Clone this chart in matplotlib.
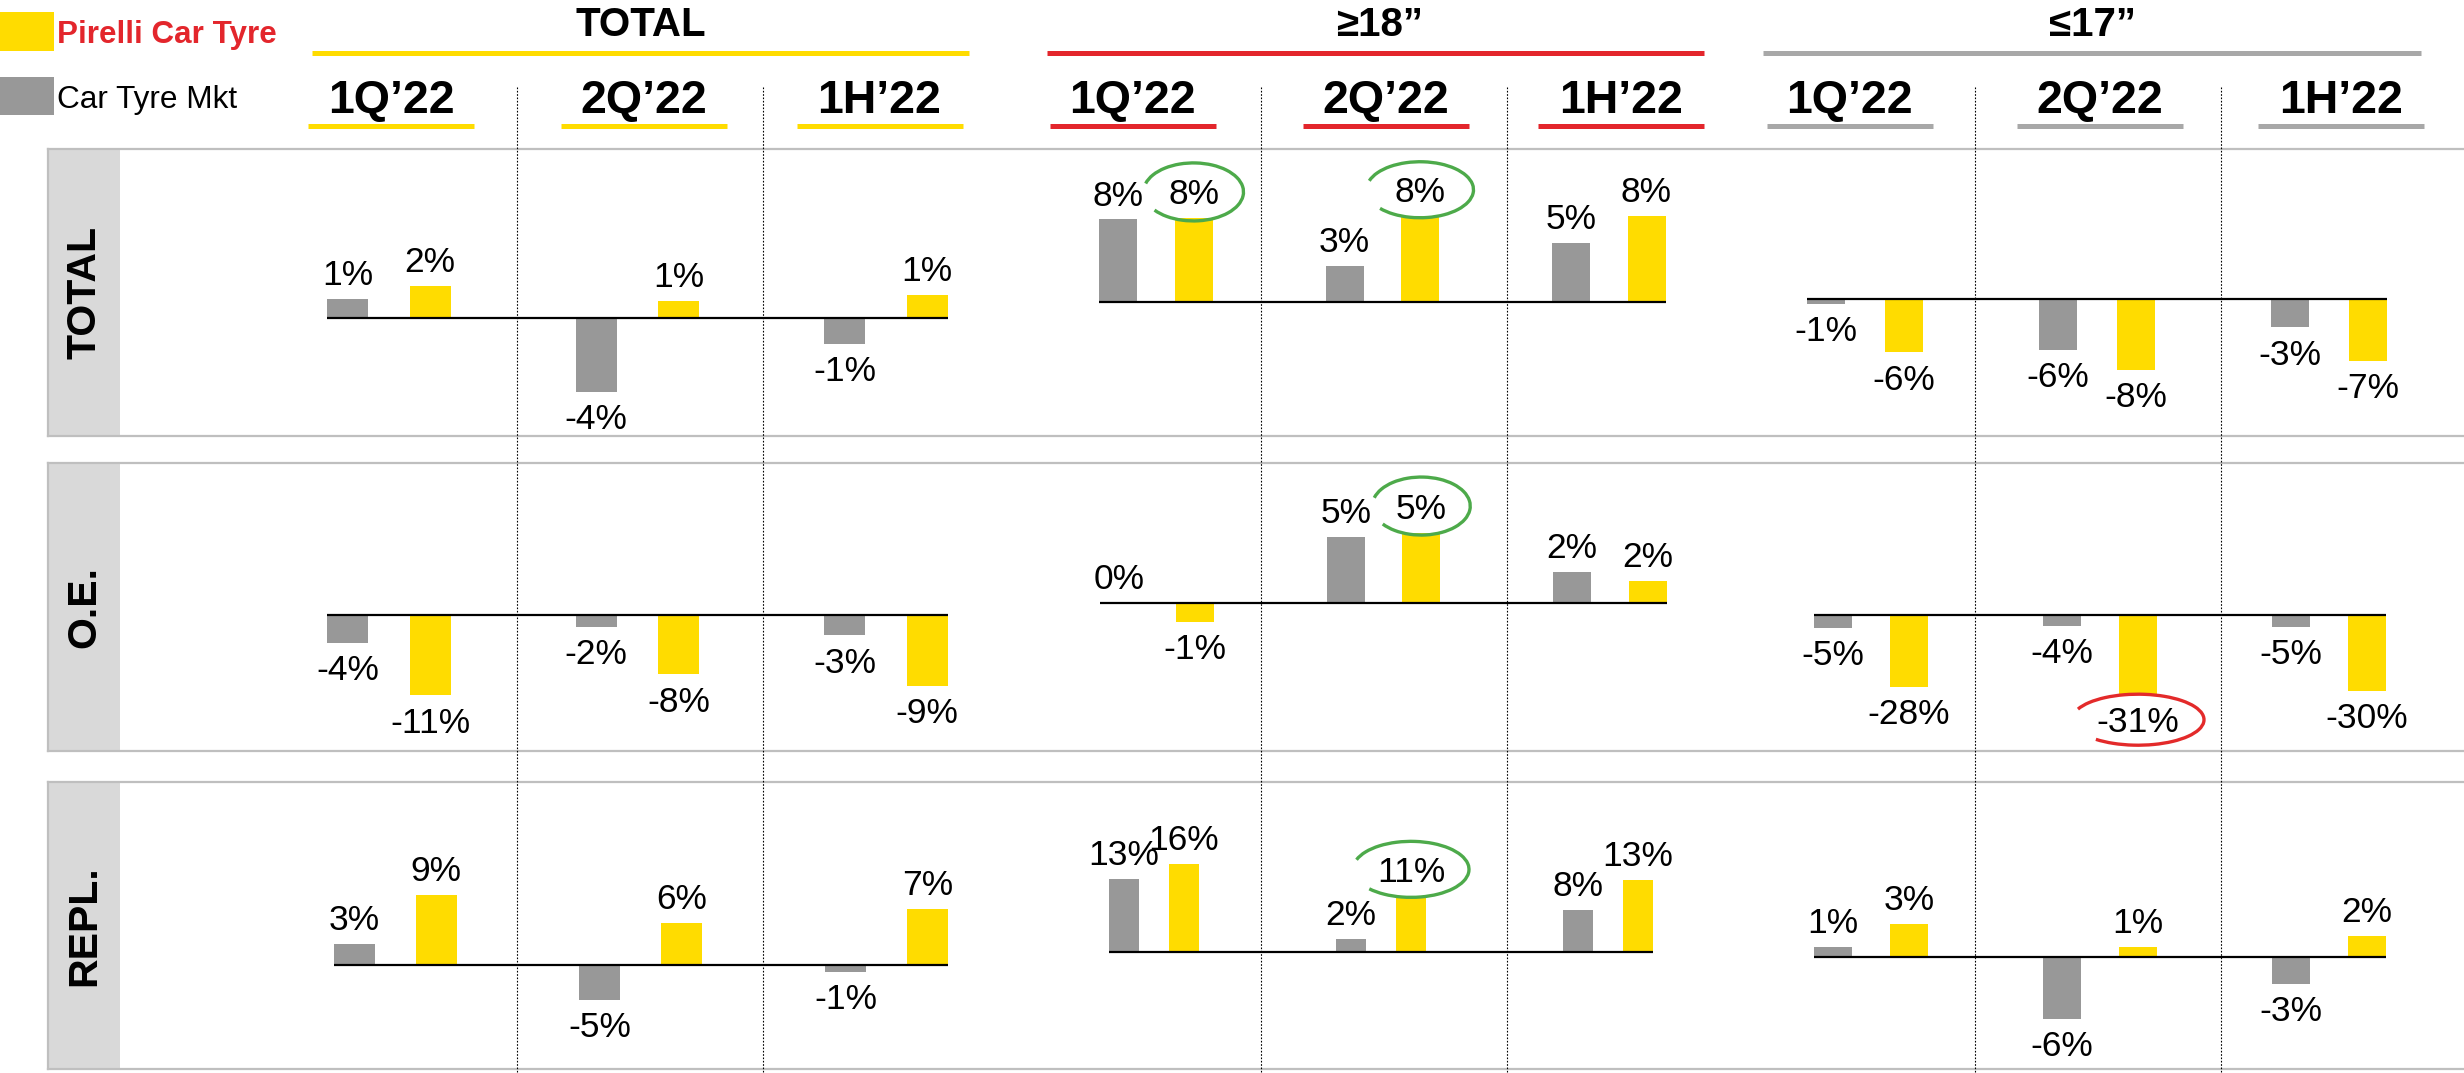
import matplotlib
matplotlib.use("Agg")
import matplotlib.pyplot as plt
from matplotlib.patches import Rectangle, Arc
from matplotlib.lines import Line2D
from matplotlib.transforms import IdentityTransform
import numpy as np

plt.rcParams['font.family'] = ['Liberation Sans', 'DejaVu Sans']

# ---------------- data ----------------
group_titles = ['TOTAL', '≥18”', '≤17”']
period_labels = ['1Q’22', '2Q’22', '1H’22']
row_titles = ['TOTAL', 'O.E.', 'REPL.']
series_names = ['Pirelli Car Tyre', 'Car Tyre Mkt']

# Car Tyre Mkt (grey) and Pirelli Car Tyre (yellow), % change y/y (bar heights)
mkt_total_all = [1.0, -4.0, -1.4]
pir_total_all = [1.7, 0.9, 1.2]
mkt_total_18 = [7.6, 3.3, 5.4]
pir_total_18 = [7.7, 7.9, 7.9]
mkt_total_17 = [-0.6, -5.7, -3.2]
pir_total_17 = [-6.0, -8.0, -7.0]

mkt_oe_all = [-3.7, -1.6, -2.7]
pir_oe_all = [-10.7, -7.9, -9.4]
mkt_oe_18 = [0.0, 4.9, 2.3]
pir_oe_18 = [-1.4, 5.2, 1.6]
mkt_oe_17 = [-5.0, -4.2, -4.6]
pir_oe_17 = [-27.9, -31.0, -29.5]

mkt_repl_all = [2.8, -4.8, -1.0]
pir_repl_all = [9.4, 5.6, 7.5]
mkt_repl_18 = [13.2, 2.4, 7.6]
pir_repl_18 = [16.0, 10.2, 13.1]
mkt_repl_17 = [0.9, -6.0, -2.6]
pir_repl_17 = [3.2, 0.9, 2.0]

# labels as printed on the chart
mkt_total_all_lbl = ['1%', '-4%', '-1%']
pir_total_all_lbl = ['2%', '1%', '1%']
mkt_total_18_lbl = ['8%', '3%', '5%']
pir_total_18_lbl = ['8%', '8%', '8%']
mkt_total_17_lbl = ['-1%', '-6%', '-3%']
pir_total_17_lbl = ['-6%', '-8%', '-7%']
mkt_oe_all_lbl = ['-4%', '-2%', '-3%']
pir_oe_all_lbl = ['-11%', '-8%', '-9%']
mkt_oe_18_lbl = ['0%', '5%', '2%']
pir_oe_18_lbl = ['-1%', '5%', '2%']
mkt_oe_17_lbl = ['-5%', '-4%', '-5%']
pir_oe_17_lbl = ['-28%', '-31%', '-30%']
mkt_repl_all_lbl = ['3%', '-5%', '-1%']
pir_repl_all_lbl = ['9%', '6%', '7%']
mkt_repl_18_lbl = ['13%', '2%', '8%']
pir_repl_18_lbl = ['16%', '11%', '13%']
mkt_repl_17_lbl = ['1%', '-6%', '-3%']
pir_repl_17_lbl = ['3%', '1%', '2%']

panels = [
    [(mkt_total_all, pir_total_all, mkt_total_all_lbl, pir_total_all_lbl),
     (mkt_total_18, pir_total_18, mkt_total_18_lbl, pir_total_18_lbl),
     (mkt_total_17, pir_total_17, mkt_total_17_lbl, pir_total_17_lbl)],
    [(mkt_oe_all, pir_oe_all, mkt_oe_all_lbl, pir_oe_all_lbl),
     (mkt_oe_18, pir_oe_18, mkt_oe_18_lbl, pir_oe_18_lbl),
     (mkt_oe_17, pir_oe_17, mkt_oe_17_lbl, pir_oe_17_lbl)],
    [(mkt_repl_all, pir_repl_all, mkt_repl_all_lbl, pir_repl_all_lbl),
     (mkt_repl_18, pir_repl_18, mkt_repl_18_lbl, pir_repl_18_lbl),
     (mkt_repl_17, pir_repl_17, mkt_repl_17_lbl, pir_repl_17_lbl)],
]

# ---------------- style / layout ----------------
YELLOW = '#FFDC00'
GREY = '#989898'
RED = '#E3262C'
HGREY = '#A8A8A8'
BOXGREY = '#D9D9D9'
EDGEGREY = '#BFBFBF'
group_colors = [YELLOW, RED, HGREY]

W, H = 2464, 1073


def fx(x):
    return x / W


def fy(y):
    return 1 - y / H


fig = plt.figure(figsize=(W / 100, H / 100), dpi=100)

row_span = [(149, 436), (463, 751), (782, 1069)]
group_span = [(300, 985), (1040, 1715), (1760, 2440)]
zero_y = [[317.7, 302.3, 299.0], [615.2, 602.7, 614.8], [964.8, 951.9, 956.8]]
px_per_pct = [[18.65, 10.9, 8.9], [7.5, 13.5, 2.59], [7.4, 5.5, 10.4]]
bar_geom = [  # (first category centre, spacing, grey-yellow offset, bar width) in px
    [(388.75, 248.5, 82.5, 41), (1155.75, 226.5, 75.5, 38), (1865, 232, 78, 38)],
    [(388.75, 248.5, 82.5, 41), (1157, 226.5, 75.5, 38), (1871, 229, 76, 38)],
    [(395, 245.7, 82, 41), (1154, 227, 60, 30), (1871, 229, 76, 38)],
]
LABEL_FS = 25.5

# row boxes
for r, (T, B) in enumerate(row_span):
    fig.add_artist(Rectangle((fx(48), fy(B)), (120 - 48) / W, (B - T) / H,
                             transform=fig.transFigure, fc=BOXGREY, ec='none'))
    for y in (T, B):
        fig.add_artist(Line2D([fx(48), 1], [fy(y), fy(y)], color=EDGEGREY, lw=1.6))
    fig.add_artist(Line2D([fx(48), fx(48)], [fy(T), fy(B)], color=EDGEGREY, lw=1.6))
    fig.text(fx(84), fy((T + B) / 2), row_titles[r], rotation=90, ha='center',
             va='center', fontsize=29.5, fontweight='bold', color='black')

# dotted separators
for x in [517, 763, 1261, 1507, 1975, 2221]:
    fig.add_artist(Line2D([fx(x), fx(x)], [fy(87), fy(1073)], color='black',
                          lw=0.8, linestyle=(0, (1.5, 1.5))))

# headers
group_centre = [641, 1380, 2092]
group_line = [(312, 969), (1047, 1704), (1763, 2421)]
sub_centres = [[391, 644, 879.5], [1132.5, 1385.5, 1621], [1849.5, 2100, 2341]]
for g in range(3):
    fig.text(fx(group_centre[g]), fy(36), group_titles[g], ha='center', va='baseline',
             fontsize=29, fontweight='bold')
    x1, x2 = group_line[g]
    fig.add_artist(Line2D([fx(x1), fx(x2)], [fy(52.5), fy(52.5)], color=group_colors[g],
                          lw=3.6, solid_capstyle='butt'))
    for k in range(3):
        c = sub_centres[g][k]
        fig.text(fx(c), fy(113), period_labels[k], ha='center', va='baseline',
                 fontsize=33.5, fontweight='bold')
        fig.add_artist(Line2D([fx(c - 83), fx(c + 83)], [fy(125.5), fy(125.5)],
                              color=group_colors[g], lw=3.6, solid_capstyle='butt'))

# legend
fig.add_artist(Rectangle((0, fy(51)), 54 / W, 39 / H, transform=fig.transFigure,
                         fc=YELLOW, ec='none'))
fig.add_artist(Rectangle((0, fy(115)), 54 / W, 38 / H, transform=fig.transFigure,
                         fc=GREY, ec='none'))
fig.text(fx(57), fy(43), series_names[0], ha='left', va='baseline', fontsize=22.6,
         fontweight='bold', color=RED)
fig.text(fx(57), fy(108), series_names[1], ha='left', va='baseline', fontsize=22.7,
         color='black')

# panels
label_texts = {}
for r in range(3):
    T, B = row_span[r]
    ya, yb = T + 2, B - 2
    for g in range(3):
        xa, xb = group_span[g]
        c0, sp, off, bw = bar_geom[r][g]
        z = zero_y[r][g]
        s = px_per_pct[r][g]
        ax = fig.add_axes([fx(xa), fy(yb), (xb - xa) / W, (yb - ya) / H])
        ax.set_xlim((xa - c0) / sp, (xb - c0) / sp)
        ax.set_ylim(-(yb - z) / s, (z - ya) / s)
        ax.axis('off')
        ax.patch.set_alpha(0)
        mkt, pir, mkt_l, pir_l = panels[r][g]
        pos = np.arange(len(mkt))
        d = off / sp
        w = bw / sp
        ax.bar(pos - d / 2, mkt, width=w, color=GREY, zorder=3)
        ax.bar(pos + d / 2, pir, width=w, color=YELLOW, zorder=3)
        ax.hlines(0, pos[0] - d / 2 - w / 2, pos[-1] + d / 2 + w / 2, color='black',
                  lw=1.6, zorder=4)
        for series, vals, lbls, sign in ((0, mkt, mkt_l, -1), (1, pir, pir_l, 1)):
            for i, (v, t) in enumerate(zip(vals, lbls)):
                up = v >= 0
                txt = ax.annotate(t, (pos[i] + sign * d / 2, v),
                                  xytext=(0, 5 if up else -8), textcoords='offset points',
                                  ha='center', va='bottom' if up else 'top',
                                  fontsize=LABEL_FS, zorder=5)
                label_texts[(r, g, series, i)] = txt

# hand-drawn highlight loops around some Pirelli labels (open at the left side)
highlights = [
    ((0, 1, 1, 0), '#4DAA4A', 100, 58),
    ((0, 1, 1, 1), '#4DAA4A', 107, 56),
    ((1, 1, 1, 1), '#4DAA4A', 98, 58),
    ((2, 1, 1, 1), '#4DAA4A', 116, 56),
    ((1, 2, 1, 1), '#E32A2A', 132, 51),
]
fig.canvas.draw()
renderer = fig.canvas.get_renderer()
for key, col, ew, eh in highlights:
    bb = label_texts[key].get_window_extent(renderer)
    cx = (bb.x0 + bb.x1) / 2
    cy = (bb.y0 + bb.y1) / 2 + 3
    fig.add_artist(Arc((cx, cy), ew, eh, theta1=205, theta2=170,
                       transform=IdentityTransform(), ec=col, lw=2.4, zorder=10))

fig.savefig('out.png', dpi=100)
